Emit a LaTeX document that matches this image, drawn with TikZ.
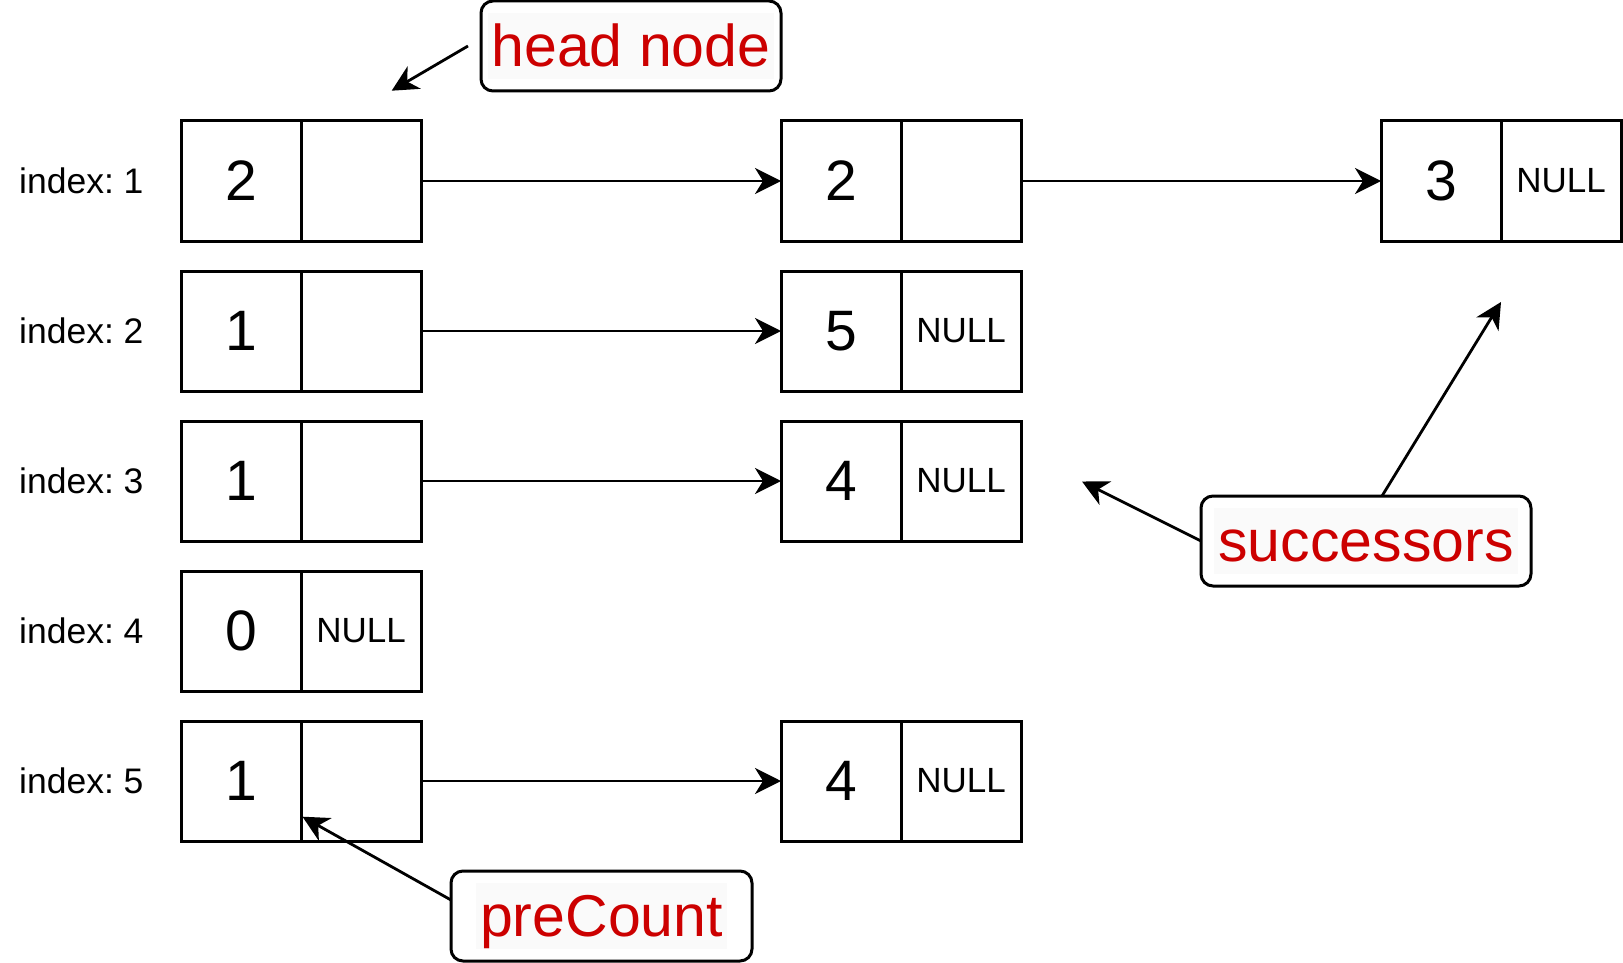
\documentclass[tikz,border=0pt]{standalone}
\usepackage{fontspec}
\setmainfont{Liberation Sans}
\usetikzlibrary{arrows.meta}
\definecolor{labelred}{RGB}{204,0,0}
\definecolor{labelbg}{RGB}{250,250,250}
\newcommand\hlbox[1]{{\setlength\fboxsep{0pt}\colorbox{labelbg}{\hspace{4pt}\vrule height 0.9em depth 0.22em width 0pt\relax #1\hspace{4pt}}}}
\frenchspacing
\begin{document}
\begin{tikzpicture}[x=1pt,y=-1pt,
  cell/.style={draw, line width=3pt, minimum width=120pt, minimum height=120pt, inner sep=0pt, outer sep=0pt},
  big/.style={font=\fontsize{57pt}{60pt}\selectfont},
  nul/.style={font=\fontsize{35pt}{40pt}\selectfont},
  idx/.style={anchor=west, inner sep=0pt, font=\frenchspacing\fontsize{35.5pt}{40pt}\selectfont},
  lbl/.style={draw, line width=3pt, rounded corners=12pt, fill=white, text=labelred, minimum height=90pt, inner sep=0pt, outer sep=0pt, font=\fontsize{59pt}{70pt}\selectfont},
  arr/.style={line width=2.8pt, -{Stealth[length=26pt,width=26pt,inset=8pt]}}
]
\useasboundingbox (0,0) rectangle (1623,963);

% index labels
\node[idx] (i1) at (19,181) {index: 1};
\node[idx] (i2) at (19,331) {index: 2};
\node[idx] (i3) at (19,481) {index: 3};
\node[idx] (i4) at (19,631) {index: 4};
\node[idx] (i5) at (19,781) {index: 5};

% head column
\node[cell,big] (a1) at (241,181) {2};
\node[cell]     (b1) at (361,181) {};
\node[cell,big] (a2) at (241,331) {1};
\node[cell]     (b2) at (361,331) {};
\node[cell,big] (a3) at (241,481) {1};
\node[cell]     (b3) at (361,481) {};
\node[cell,big] (a4) at (241,631) {0};
\node[cell,nul] (b4) at (361,631) {NULL};
\node[cell,big] (a5) at (241,781) {1};
\node[cell]     (b5) at (361,781) {};

% second column
\node[cell,big] (c1) at (841,181) {2};
\node[cell]     (d1) at (961,181) {};
\node[cell,big] (c2) at (841,331) {5};
\node[cell,nul] (d2) at (961,331) {NULL};
\node[cell,big] (c3) at (841,481) {4};
\node[cell,nul] (d3) at (961,481) {NULL};
\node[cell,big] (c5) at (841,781) {4};
\node[cell,nul] (d5) at (961,781) {NULL};

% third column
\node[cell,big] (e1) at (1441,181) {3};
\node[cell,nul] (f1) at (1561,181) {NULL};

% list arrows
\draw[arr] (b1.east) -- (c1.west);
\draw[arr] (d1.east) -- (e1.west);
\draw[arr] (b2.east) -- (c2.west);
\draw[arr] (b3.east) -- (c3.west);
\draw[arr] (b5.east) -- (c5.west);

% labels
\node[lbl, minimum width=300pt] (hn) at (631,46) {\hlbox{head node}};
\node[lbl, minimum width=330pt] (sc) at (1366,541) {\hlbox{successors}};
\node[lbl, minimum width=301pt] (pc) at (601.5,916) {\hlbox{preCount}};

\coordinate (hntip) at (391.7,90.7);
\coordinate (sctip1) at (1082,481.5);
\coordinate (sctip2) at (1501,302);
\coordinate (pctip) at (302.5,816.7);

\draw[arr] ([xshift=-13pt]hn.west) -- (hntip);
\draw[arr] (sc.west) -- (sctip1);
\draw[arr] ([xshift=16pt]sc.north) -- (sctip2);
\draw[arr] ([yshift=16pt]pc.west) -- (pctip);
\end{tikzpicture}
\end{document}
